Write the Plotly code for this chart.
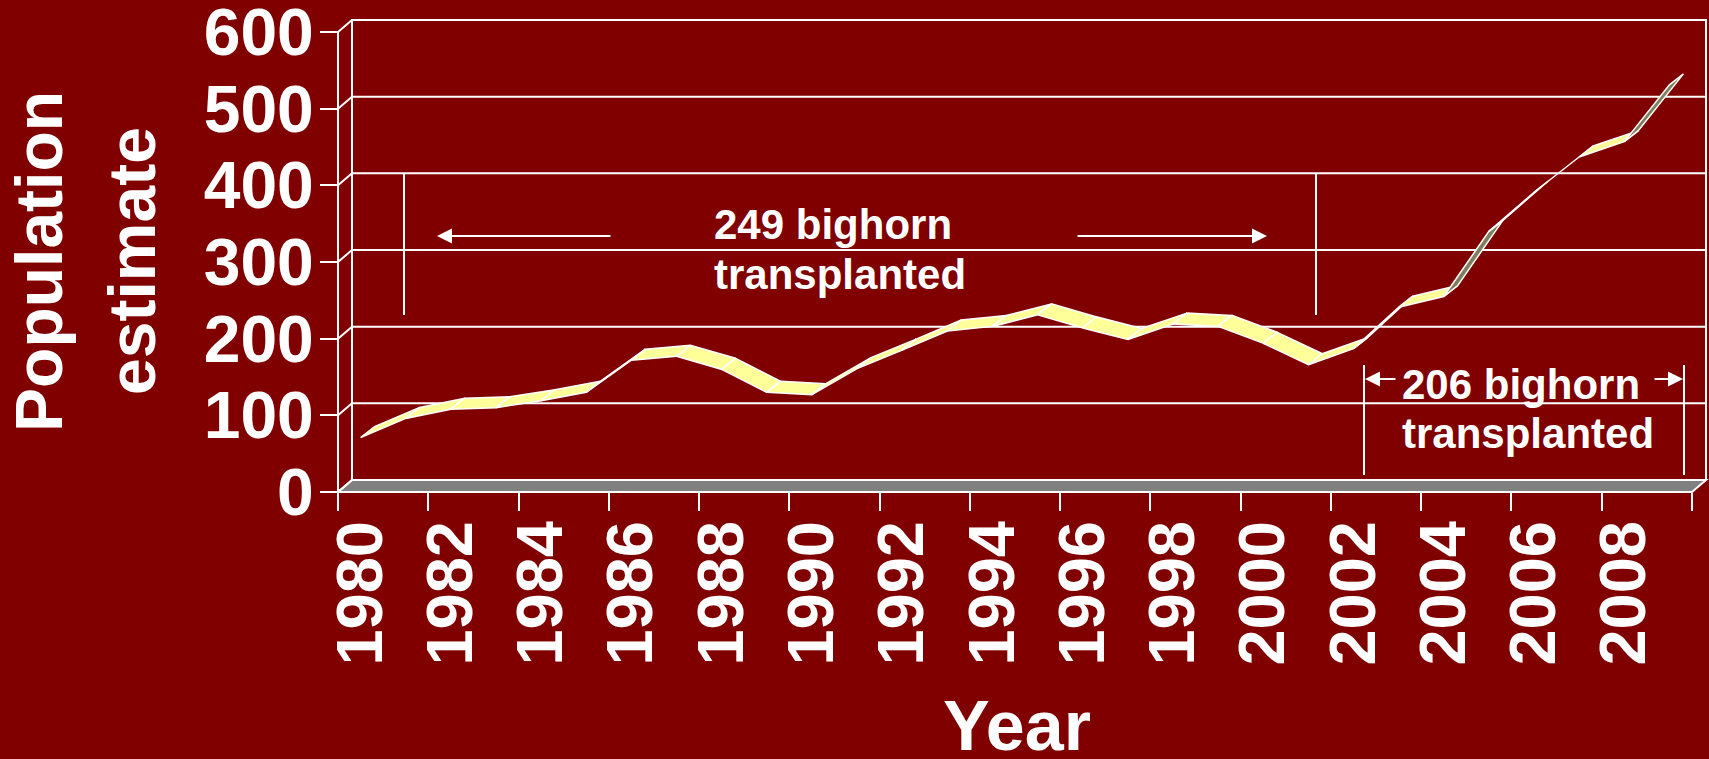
import plotly.graph_objects as go

# ---------------- data ----------------
years = list(range(1980, 2010))
population = [71, 96, 108, 110, 119, 130, 172, 177, 160, 130,
              127, 161, 185, 210, 216, 231, 214, 199, 219, 216,
              194, 166, 187, 241, 255, 340, 391, 437, 457, 531]
y_tick_values = [0, 100, 200, 300, 400, 500, 600]
x_tick_labels = [str(y) for y in years[::2]]

# ---------------- geometry (pixels of the 1709x759 page) ----------------
W, H = 1709, 759
FRONT_L, FRONT_R = 338, 1692      # front plane left / right
FRONT_0, FRONT_600 = 492, 32      # front plane y for 0 and 600
PLOT_L, PLOT_R, PLOT_T, PLOT_B = 300, 1709, 0, 540
N = len(years)
CATPX = (FRONT_R - FRONT_L) / N
VPX = (FRONT_0 - FRONT_600) / 600.0
DEPTH_PX = (14, 12)               # wall / floor depth
RIB_PX = (14, 11)                 # ribbon depth
DX, DY = DEPTH_PX[0] / CATPX, DEPTH_PX[1] / VPX
RDX, RDY = RIB_PX[0] / CATPX, RIB_PX[1] / VPX


def xd(px):
    return -0.5 + (px - FRONT_L) / CATPX


def yd(py):
    return (FRONT_0 - py) / VPX


def xp(px):
    return (px - PLOT_L) / (PLOT_R - PLOT_L)


def yp(py):
    return (PLOT_B - py) / (PLOT_B - PLOT_T)


BG = "#800000"
WHITE = "#FFFFFF"
YELLOW = "#FFFF99"
UNDER = "#7F7F5F"
FONT = "Liberation Sans, Arial, sans-serif"

fig = go.Figure()

# ---------------- ribbon (3-D line) ----------------
xi = list(range(N))
for i in range(N - 1):
    x0, x1 = xi[i], xi[i + 1]
    v0, v1 = population[i], population[i + 1]
    seg = (CATPX, -(v1 - v0) * VPX)
    off = (RIB_PX[0], -RIB_PX[1])
    cross = seg[0] * off[1] - seg[1] * off[0]
    col = YELLOW if cross < 0 else UNDER
    fig.add_trace(go.Scatter(
        x=[x0, x1, x1 + RDX, x0 + RDX, x0],
        y=[v0, v1, v1 + RDY, v0 + RDY, v0],
        mode="lines", fill="toself", fillcolor=col,
        line=dict(color=WHITE, width=1.5),
        hoverinfo="skip", showlegend=False))

# ---------------- walls, floor, grid ----------------
shapes = []
L, R = -0.5, N - 0.5
shapes.append(dict(type="path", xref="x", yref="y", layer="below",
                   path=f"M{L},0 L{R},0 L{R+DX},{DY} L{L+DX},{DY} Z",
                   fillcolor="#808080", line=dict(color=WHITE, width=2)))
shapes.append(dict(type="path", xref="x", yref="y", layer="below",
                   path=f"M{L+DX},{DY} L{L+DX},{600+DY} L{R+DX},{600+DY} L{R+DX},{DY}",
                   line=dict(color=WHITE, width=2)))
for v in y_tick_values:
    if 0 < v < 600:
        shapes.append(dict(type="line", xref="x", yref="y", layer="below",
                           x0=L + DX, x1=R + DX, y0=v + DY, y1=v + DY,
                           line=dict(color=WHITE, width=2)))
    shapes.append(dict(type="line", xref="x", yref="y", layer="below",
                       x0=L, x1=L + DX, y0=v, y1=v + DY,
                       line=dict(color=WHITE, width=2)))
shapes.append(dict(type="line", xref="x", yref="y", layer="below",
                   x0=L, x1=L, y0=0, y1=600,
                   line=dict(color=WHITE, width=2)))

for (px, top, bot) in [(404, 173, 315), (1316, 173, 315),
                       (1364, 365, 475), (1684, 365, 475)]:
    shapes.append(dict(type="line", xref="x", yref="y",
                       x0=xd(px), x1=xd(px), y0=yd(top), y1=yd(bot),
                       line=dict(color=WHITE, width=2)))

annotations = []
for head, tail, ypx in [(437, 612, 236), (1267, 1076, 236),
                        (1365, 1397, 379), (1683, 1653, 379)]:
    annotations.append(dict(x=xd(head), y=yd(ypx), xref="x", yref="y",
                            text="", showarrow=True, arrowhead=2,
                            arrowsize=1.5, arrowwidth=2, arrowcolor=WHITE,
                            ax=tail - head, ay=0))

txt_font = dict(family=FONT, size=42, color=WHITE, weight="bold")
for text, xpx, base in [("249 bighorn", 712, 239), ("transplanted", 712, 289),
                        ("206 bighorn", 1400, 399), ("transplanted", 1400, 448)]:
    annotations.append(dict(x=xd(xpx), y=yd(base - 0.35 * 42), xref="x", yref="y",
                            text=text, showarrow=False, xanchor="left",
                            yanchor="middle", font=txt_font))

annotations.append(dict(x=xp(1017), y=yp(750 - 0.35 * 70), xref="paper", yref="paper",
                        text="Year", showarrow=False, xanchor="center",
                        yanchor="middle",
                        font=dict(family=FONT, size=70, color=WHITE, weight="bold")))
for text, base in [("Population", 62), ("estimate", 155)]:
    annotations.append(dict(x=xp(base - 0.35 * 66), y=yp(261), xref="paper", yref="paper",
                            text=text, showarrow=False, textangle=-90,
                            xanchor="center", yanchor="middle",
                            font=dict(family=FONT, size=66, color=WHITE, weight="bold")))

fig.update_layout(
    width=W, height=H,
    margin=dict(l=PLOT_L, r=W - PLOT_R, t=PLOT_T, b=H - PLOT_B, pad=0),
    paper_bgcolor=BG, plot_bgcolor=BG,
    shapes=shapes, annotations=annotations,
    showlegend=False,
    xaxis=dict(range=[xd(PLOT_L), xd(PLOT_R)], showgrid=False, zeroline=False,
               showline=False, automargin=False,
               anchor="free", position=(PLOT_B - FRONT_0) / (PLOT_B - PLOT_T),
               tickmode="array", tickvals=xi[::2], ticktext=x_tick_labels,
               ticks="", tickangle=-90, ticklabeloverflow="allow",
               tickfont=dict(family=FONT, size=65, color=WHITE, weight="bold"),
               minor=dict(tickmode="array",
                          tickvals=[k - 0.5 for k in range(0, N + 1, 2)],
                          ticks="outside", ticklen=18, tickwidth=2,
                          tickcolor=WHITE, showgrid=False),
               ticklabelstandoff=15),
    yaxis=dict(range=[yd(PLOT_B), yd(PLOT_T)], showgrid=False, zeroline=False,
               showline=False, automargin=False,
               anchor="free", position=(FRONT_L - PLOT_L) / (PLOT_R - PLOT_L),
               tickmode="array", tickvals=y_tick_values,
               ticks="outside", ticklen=18, tickwidth=2, tickcolor=WHITE,
               ticklabeloverflow="allow",
               tickfont=dict(family=FONT, size=66, color=WHITE, weight="bold"),
               ticklabelstandoff=-7),
)

fig.write_html("out.html",
               config={"displayModeBar": False},
               post_script="document.body.style.margin='0';"
                           "document.body.style.background='#800000';")
